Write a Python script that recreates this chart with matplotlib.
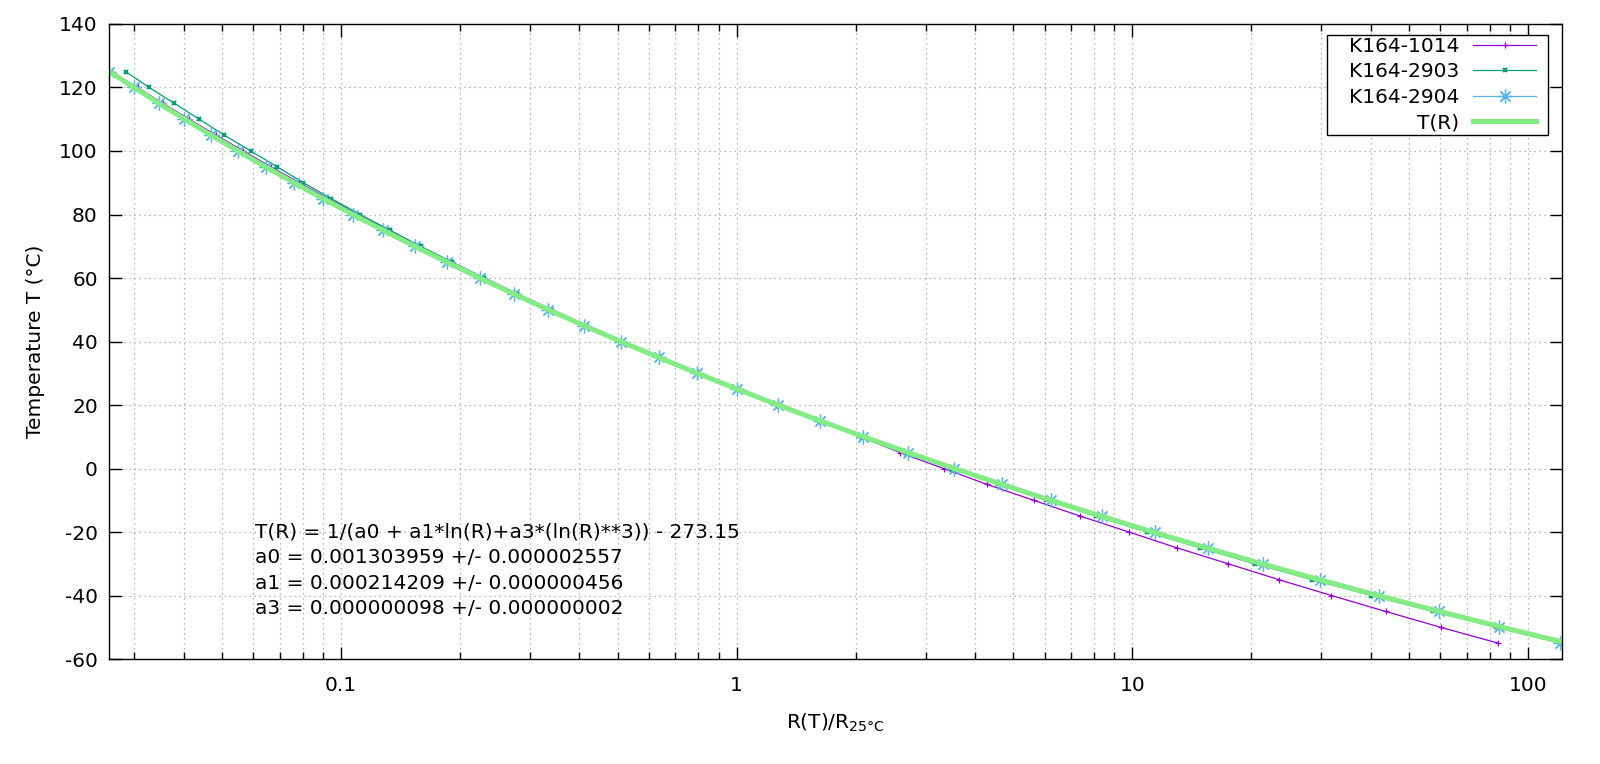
import matplotlib
matplotlib.use('Agg')
import matplotlib.pyplot as plt
from matplotlib import ticker
from matplotlib.patches import Rectangle

plt.rcParams['font.family'] = ['DejaVu Sans']
plt.rcParams['font.size'] = 14.5
plt.rcParams['axes.unicode_minus'] = False  # gnuplot writes a plain hyphen

# temperatures of the measured points (degC)
temps = [125, 120, 115, 110, 105, 100, 95, 90, 85, 80, 75, 70, 65, 60, 55, 50, 45, 40, 35,
         30, 25, 20, 15, 10, 5, 0, -5, -10, -15, -20, -25, -30, -35, -40, -45, -50, -55]

# R(T)/R25
r_1014 = [0.0263, 0.0306, 0.0355, 0.0413, 0.0483, 0.0566, 0.0665, 0.0784, 0.0928, 0.1103,
          0.1318, 0.1580, 0.1903, 0.2302, 0.2796, 0.3415, 0.4190, 0.5170, 0.6405, 0.7990,
          1.000, 1.266, 1.612, 2.050, 2.591, 3.333, 4.29, 5.63, 7.39, 9.80,
          12.97, 17.46, 23.44, 31.86, 43.63, 60.1, 84.1]
r_2903 = [0.02855, 0.03276, 0.03789, 0.04381, 0.05069, 0.05911, 0.06901, 0.08031, 0.0945, 0.1118,
          0.1331, 0.1589, 0.1906, 0.2299, 0.2785, 0.3393, 0.4156, 0.5120, 0.6344, 0.7949,
          1.000, 1.270, 1.618, 2.078, 2.685, 3.495, 4.585, 6.060, 8.08, 10.88,
          14.82, 20.40, 28.45, 40.2, 57.5, 83.0, 121.0]
r_2904 = [0.0259, 0.0299, 0.0346, 0.0402, 0.0469, 0.0549, 0.0645, 0.0761, 0.0900, 0.1070,
          0.1279, 0.1535, 0.1851, 0.2243, 0.2731, 0.3343, 0.4115, 0.5095, 0.6344, 0.7949,
          1.000, 1.269, 1.620, 2.088, 2.712, 3.542, 4.678, 6.240, 8.38, 11.40,
          15.55, 21.42, 29.75, 41.9, 59.5, 84.5, 120.5]

# fitted curve T(R), sampled along the drawn line
fit_r = [0.02597, 0.02996, 0.03467, 0.04026, 0.04694, 0.05493, 0.06450, 0.07606, 0.09008, 0.10711,
         0.12795, 0.15354, 0.18509, 0.22425, 0.27308, 0.33434, 0.41152, 0.50946, 0.63442, 0.79491,
         1.0024, 1.2724, 1.6264, 2.0941, 2.7161, 3.5505, 4.6778, 6.2173, 8.3354, 11.281,
         15.411, 21.270, 29.662, 41.820, 59.645, 86.09, 125.8]
fit_t = temps

fit_text = ['T(R) = 1/(a0 + a1*ln(R)+a3*(ln(R)**3)) - 273.15',
            'a0 = 0.001303959 +/- 0.000002557',
            'a1 = 0.000214209 +/- 0.000000456',
            'a3 = 0.000000098 +/- 0.000000002']

fig = plt.figure(figsize=(16, 7.64), dpi=100)
ax = fig.add_axes([0.0681, 0.1374, 0.9081, 0.8312])

ax.plot(r_1014, temps, color='#9400d3', lw=0.9, marker='+', ms=4, mew=0.9, label='K164-1014')
ax.plot(r_2903, temps, color='#009e73', lw=0.9, marker='x', ms=2.5, mew=1.5, label='K164-2903')
ax.plot(r_2904, temps, color='#56b4e9', lw=0.9, marker=(8, 2, 0), ms=10, mew=0.9, label='K164-2904')
ax.plot(fit_r, fit_t, color='#84ec84', lw=3.6, label='T(R)')

ax.set_xscale('log')
ax.set_xlim(0.0259, 121.8)
ax.set_ylim(-60, 140)
ax.set_yticks(range(-60, 141, 20))
ax.xaxis.set_major_locator(ticker.FixedLocator([0.1, 1, 10, 100]))
ax.xaxis.set_major_formatter(ticker.FuncFormatter(lambda v, p: '%g' % v))
ax.xaxis.set_minor_locator(ticker.LogLocator(base=10, subs=[2, 3, 4, 5, 6, 7, 8, 9], numticks=20))
ax.xaxis.set_minor_formatter(ticker.NullFormatter())

ax.tick_params(which='both', direction='in', top=True, right=True, width=1)
ax.tick_params(which='major', length=9)
ax.tick_params(which='minor', length=5)
ax.tick_params(axis='x', pad=12)
ax.tick_params(axis='y', pad=8)
for s in ax.spines.values():
    s.set_linewidth(1)

ax.grid(which='both', axis='x', linestyle=(0, (1, 3)), color='#a0a0a0', lw=0.9)
ax.grid(which='major', axis='y', linestyle=(0, (1, 3)), color='#a0a0a0', lw=0.9)

ax.set_xlabel(r'R(T)/R$_{\mathregular{25°C}}$', labelpad=12)
ax.set_ylabel('Temperature T (°C)', labelpad=10)

for i, line in enumerate(fit_text):
    ax.text(0.1005, 0.2 - i * 0.0402, line, transform=ax.transAxes, va='center', ha='left')

# gnuplot style key: wider box than the entries, so draw the frame by hand
key_box = Rectangle((0.8383, 0.8252), 0.1521, 0.1575, transform=ax.transAxes,
                    facecolor='white', edgecolor='black', lw=1, zorder=4.9)
ax.add_patch(key_box)
leg = ax.legend(loc='upper right', bbox_to_anchor=(0.9821, 0.9795), markerfirst=False,
                frameon=False, handlelength=3.1, borderpad=0, labelspacing=0.32,
                handletextpad=0.7, borderaxespad=0)
leg.set_zorder(5)

fig.savefig('out.png', dpi=100)
